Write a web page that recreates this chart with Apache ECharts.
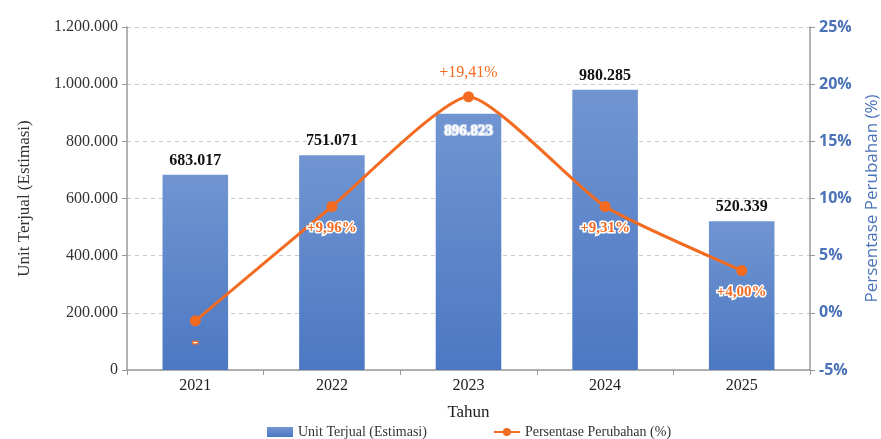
<!DOCTYPE html>
<html>
<head>
<meta charset="utf-8">
<script src="https://cdn.jsdelivr.net/npm/echarts@6/dist/echarts.min.js"></script>
<style>html,body{margin:0;padding:0;background:#fff;}#c{width:881px;height:439px;}</style>
</head>
<body>
<div id="c"></div>
<script>
var years = ['2021', '2022', '2023', '2024', '2025'];
var unitsSold = [683017, 751071, 896823, 980285, 520339];
var pctChange = [-0.7, 9.3, 18.9, 9.3, 3.7];
var pctLabels = ['-', '+9,96%', '+19,41%', '+9,31%', '+4,00%'];
var leftTicks = {min: 0, max: 1200000, interval: 200000};
var rightTicks = {min: -5, max: 25, interval: 5};

function dots(v) {
  return String(Math.round(v)).replace(/\B(?=(\d{3})+(?!\d))/g, '.');
}

var SERIF = 'Liberation Serif';
var ORANGE = '#f26b21';
var BLUE = '#4a72b8';

var barData = unitsSold.map(function (v, i) {
  var d = {value: v};
  if (i === 2) {
    d.label = {
      position: 'insideTop', distance: 10, color: '#fff', fontWeight: 'bold',
      fontSize: 15, textBorderColor: '#c9d6ee', textBorderWidth: 2
    };
  }
  return d;
});

var lineData = pctChange.map(function (v, i) {
  var d = {value: v};
  if (i === 2) {
    d.label = {position: 'top', distance: 10, fontWeight: 'normal', fontSize: 16, textBorderWidth: 0};
  }
  if (i === 0) {
    d.label = {position: 'bottom', distance: 8, color: '#fff', textBorderColor: ORANGE, textBorderWidth: 2.5};
  }
  return d;
});

var chart = echarts.init(document.getElementById('c'));
chart.setOption({
  animation: false,
  backgroundColor: '#fff',
  grid: {left: 127, right: 71, top: 27, bottom: 69, outerBoundsMode: 'none', containLabel: false},
  legend: {
    left: 262, top: 420, itemWidth: 26, itemHeight: 10, itemGap: 66,
    textStyle: {fontFamily: SERIF, fontSize: 14, color: '#333'},
    data: [
      {name: 'Unit Terjual (Estimasi)', icon: 'rect'},
      {name: 'Persentase Perubahan (%)'}
    ]
  },
  xAxis: {
    type: 'category',
    data: years,
    name: 'Tahun',
    nameLocation: 'middle',
    nameGap: 34,
    nameTextStyle: {fontFamily: SERIF, fontSize: 17, color: '#222'},
    axisLine: {lineStyle: {color: '#999', width: 1.5}},
    axisTick: {show: true, length: 5, lineStyle: {color: '#999'}},
    axisLabel: {fontFamily: SERIF, fontSize: 16, color: '#222', margin: 8}
  },
  yAxis: [
    {
      type: 'value',
      min: leftTicks.min, max: leftTicks.max, interval: leftTicks.interval,
      name: 'Unit Terjual (Estimasi)',
      nameLocation: 'middle',
      nameGap: 94,
      nameRotate: 90,
      nameTextStyle: {fontFamily: SERIF, fontSize: 17, color: '#333'},
      axisLine: {show: true, lineStyle: {color: '#999', width: 1.5}},
      axisTick: {show: true, length: 5, lineStyle: {color: '#999'}},
      axisLabel: {fontFamily: SERIF, fontSize: 16, color: '#333', margin: 9, formatter: dots},
      splitLine: {show: true, lineStyle: {color: '#ccc', type: [4, 4], width: 1}}
    },
    {
      type: 'value',
      position: 'right',
      min: rightTicks.min, max: rightTicks.max, interval: rightTicks.interval,
      name: 'Persentase Perubahan (%)',
      nameLocation: 'middle',
      nameGap: 54,
      nameRotate: 90,
      nameTextStyle: {fontFamily: 'Open Sans', fontSize: 17, color: BLUE},
      axisLine: {show: true, lineStyle: {color: '#999', width: 1.5}},
      axisTick: {show: true, length: 5, lineStyle: {color: '#999'}},
      axisLabel: {fontFamily: 'Open Sans', fontWeight: 'bold', fontSize: 16, color: BLUE, margin: 9,
        formatter: function (v) { return v + '%'; }},
      splitLine: {show: false}
    }
  ],
  series: [
    {
      name: 'Unit Terjual (Estimasi)',
      type: 'bar',
      yAxisIndex: 0,
      barWidth: '48%',
      data: barData,
      itemStyle: {
        color: new echarts.graphic.LinearGradient(0, 0, 0, 1, [
          {offset: 0, color: '#7095d1'},
          {offset: 1, color: '#4c78c3'}
        ])
      },
      label: {
        show: true, position: 'top', distance: 6,
        fontFamily: SERIF, fontWeight: 'bold', fontSize: 16, color: '#111',
        formatter: function (p) { return dots(p.value); }
      }
    },
    {
      name: 'Persentase Perubahan (%)',
      type: 'line',
      yAxisIndex: 1,
      smooth: 0.18,
      data: lineData,
      symbol: 'circle',
      symbolSize: 11,
      itemStyle: {color: ORANGE},
      lineStyle: {color: ORANGE, width: 3},
      label: {
        show: true, position: 'bottom', distance: 9,
        fontFamily: SERIF, fontWeight: 'bold', fontSize: 15, color: ORANGE,
        textBorderColor: '#fff', textBorderWidth: 3,
        formatter: function (p) { return pctLabels[p.dataIndex]; }
      },
      z: 5
    }
  ]
});
</script>
</body>
</html>
